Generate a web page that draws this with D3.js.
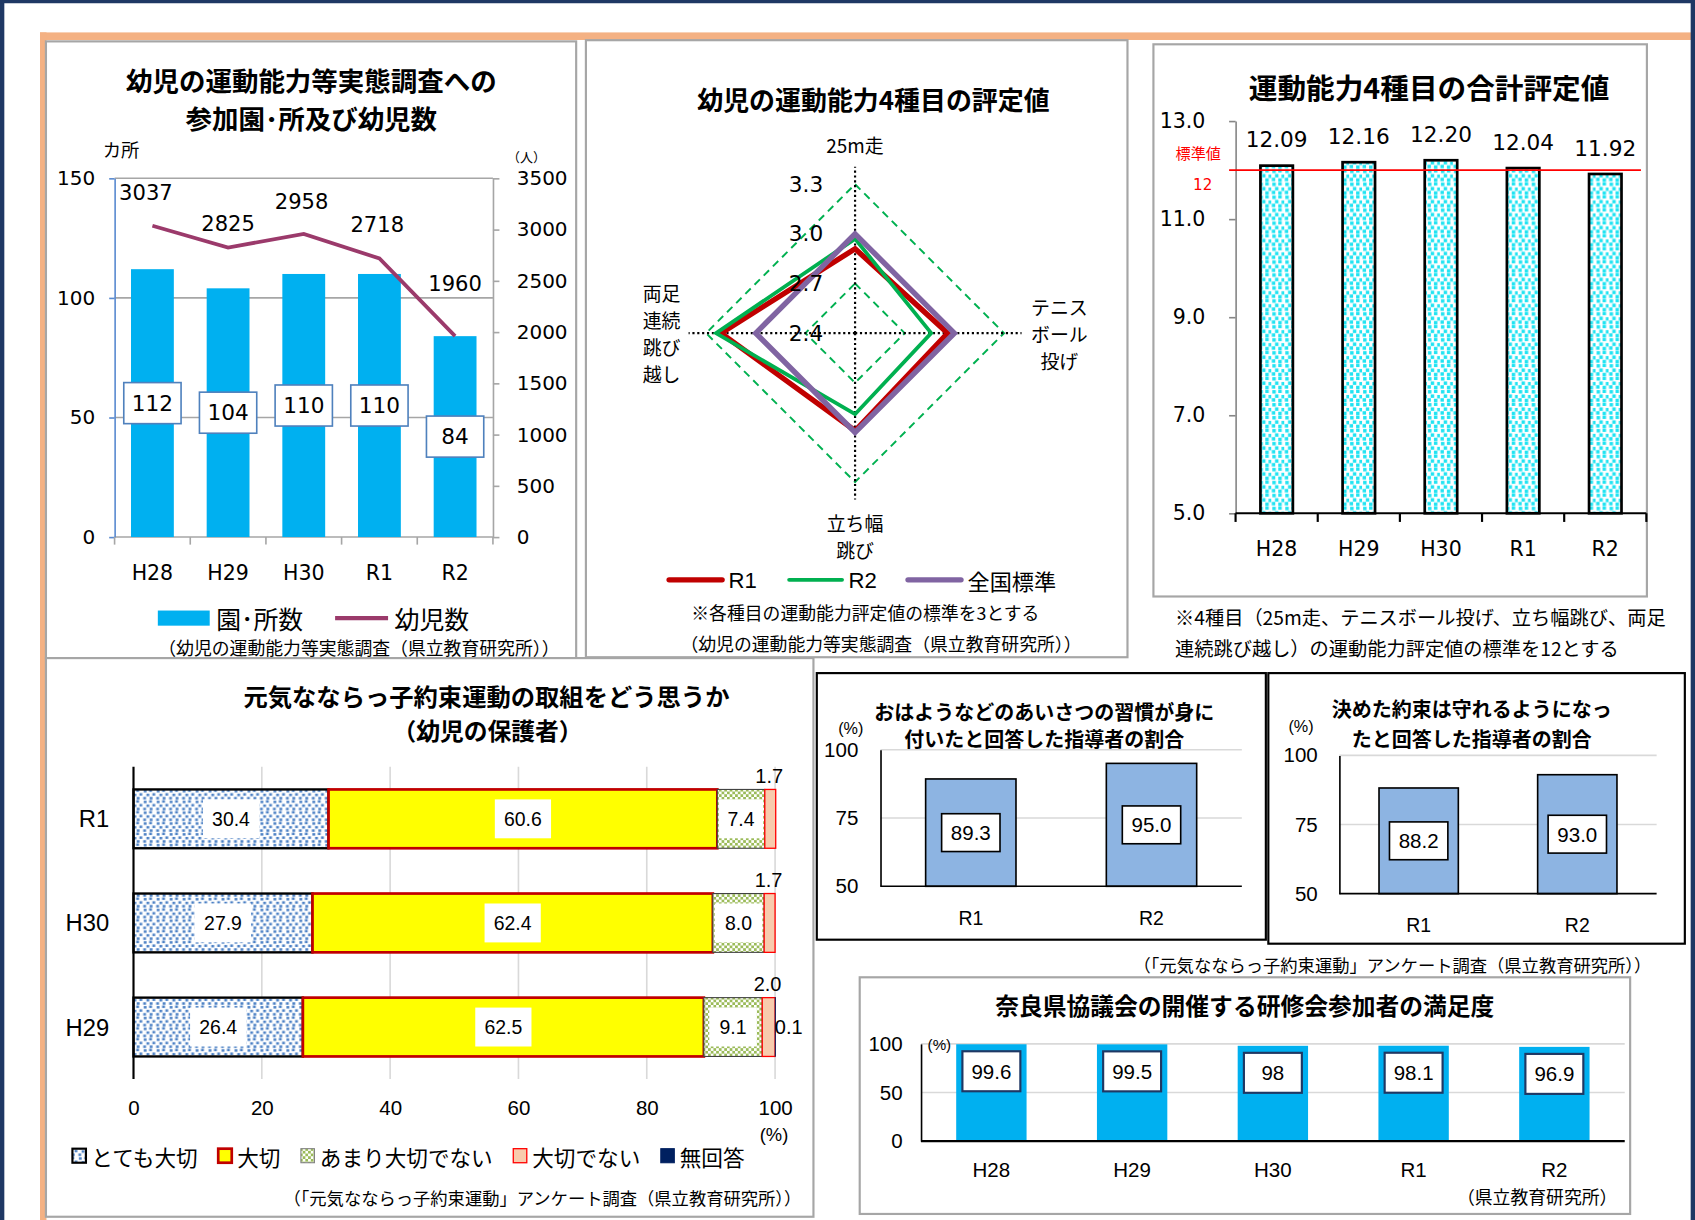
<!DOCTYPE html>
<html><head><meta charset="utf-8">
<script src="https://cdn.jsdelivr.net/npm/d3@7"></script>
<style>body{margin:0;background:#fff;} svg{display:block;}</style>
</head><body>
<script>
// ---------------- DATA ----------------
const years5 = ["H28","H29","H30","R1","R2"];
const facilities = [112,104,110,110,84];
const children = [3037,2825,2958,2718,1960];

const radarAxes = ["25m走","テニスボール投げ","立ち幅跳び","両足連続跳び越し"];
const radarLabelLines = [["25m走"],["テニス","ボール","投げ"],["立ち幅","跳び"],["両足","連続","跳び","越し"]];
const radarR1 = [2.91,2.96,2.99,3.21];
const radarR2 = [2.97,2.86,2.89,3.24];
const radarNational = [3.0,3.0,3.0,3.0];
const radarTicks = [2.4,2.7,3.0,3.3];

const totalScores = [12.09,12.16,12.20,12.04,11.92];
const totalStandard = 12;
const totalTicks = [5,7,9,11,13];

const surveyYears = ["R1","H30","H29"];
const surveyCats = ["とても大切","大切","あまり大切でない","大切でない","無回答"];
const veryImportant = [30.4,27.9,26.4];
const important = [60.6,62.4,62.5];
const notVery = [7.4,8.0,9.1];
const notImportant = [1.7,1.7,2.0];
const noAnswer = [0,0,0.1];
const surveyTicks = [0,20,40,60,80,100];

const leaderYears = ["R1","R2"];
const greetPct = [89.3,95.0];
const promisePct = [88.2,93.0];
const leaderTicks = [50,75,100];

const satisfactionPct = [99.6,99.5,98,98.1,96.9];
const satisfactionTicks = [0,50,100];

// ---------------- SETUP ----------------
const svg = d3.select("body").append("svg")
  .attr("width",1695).attr("height",1220)
  .attr("viewBox","0 0 1568 1129").attr("preserveAspectRatio","none");
svg.append("rect").attr("width",1568).attr("height",1129).attr("fill","#fff");
const JP="'Noto Sans CJK JP','Noto Sans',sans-serif", DV="'DejaVu Sans',sans-serif", AR="'Liberation Sans',Arial,sans-serif";
function T(g,x,y,s,o={}){
  return g.append("text").attr("x",x).attr("y",y)
    .attr("text-anchor",o.a||"middle").attr("dominant-baseline","central")
    .attr("font-family",o.f||JP).attr("font-size",o.s||16)
    .attr("font-weight",o.w||400).attr("fill",o.c||"#000").text(s);
}
function box(g,x,y,w,h,stroke,fill,sw){
  return g.append("rect").attr("x",x).attr("y",y).attr("width",w).attr("height",h)
    .attr("fill",fill||"none").attr("stroke",stroke).attr("stroke-width",sw||1.5);
}

// patterns
const defs = svg.append("defs");
const pc = defs.append("pattern").attr("id","cyanDots").attr("patternUnits","userSpaceOnUse").attr("width",12).attr("height",12);
pc.append("rect").attr("width",12).attr("height",12).attr("fill","#fff");
[[1,1],[6.5,0.5],[3.5,5],[9.5,5.5],[0.5,8.5],[6.5,9]].forEach(p=>pc.append("rect").attr("x",p[0]).attr("y",p[1]).attr("width",3.2).attr("height",3.2).attr("fill","#1fe3f2"));
const pb = defs.append("pattern").attr("id","blueDots").attr("patternUnits","userSpaceOnUse").attr("width",12).attr("height",10);
pb.append("rect").attr("width",12).attr("height",10).attr("fill","#fff");
[[1,1],[6,0.5],[3.5,4.5],[9,4],[0.5,7.5],[6.5,7.5]].forEach(p=>pb.append("rect").attr("x",p[0]).attr("y",p[1]).attr("width",2.6).attr("height",2.3).attr("fill","#4a7fc4"));
const pg = defs.append("pattern").attr("id","greenCheck").attr("patternUnits","userSpaceOnUse").attr("width",5).attr("height",5);
pg.append("rect").attr("width",5).attr("height",5).attr("fill","#fff");
pg.append("rect").attr("width",2.5).attr("height",2.5).attr("fill","#9bbb59");
pg.append("rect").attr("x",2.5).attr("y",2.5).attr("width",2.5).attr("height",2.5).attr("fill","#9bbb59");

// frame
svg.append("rect").attr("x",37).attr("y",30).attr("width",1531).attr("height",7).attr("fill","#F4B183");
svg.append("rect").attr("x",37).attr("y",30).attr("width",6).attr("height",1099).attr("fill","#F4B183");
svg.append("rect").attr("x",0).attr("y",0).attr("width",4).attr("height",1129).attr("fill","#1F3864");
svg.append("rect").attr("x",0).attr("y",0).attr("width",1568).attr("height",3).attr("fill","#1F3864");
svg.append("rect").attr("x",1564).attr("y",0).attr("width",4).attr("height",1129).attr("fill","#1F3864");

// panel boxes
box(svg,42.5,38.3,490.5,570.7,"#A6A6A6","#fff",2);
box(svg,542,37.2,501,571,"#A6A6A6","#fff",2);
box(svg,1067,41,456.5,511,"#A6A6A6","#fff",2);
box(svg,42.5,609,710,517,"#A6A6A6","#fff",2);
box(svg,755.6,622.9,415.4,246.7,"#000","#fff",2);
box(svg,1173.3,622.9,385.3,250.4,"#000","#fff",2);
box(svg,795.3,904.4,712.7,219,"#A6A6A6","#fff",2);

// ================= PANEL 1 =================
{
const g = svg.append("g");
const x1 = d3.scaleBand().domain(years5).range([106,456]).paddingInner(0.434).paddingOuter(0.217);
const y1L = d3.scaleLinear().domain([0,150]).range([497,165]);
const y1R = d3.scaleLinear().domain([0,3500]).range([497,165]);
T(g,288,73.5,"幼児の運動能力等実態調査への",{s:24.5,w:700});
T(g,288,109,"参加園･所及び幼児数",{s:24.5,w:700});
T(g,112,138,"カ所",{s:17});
T(g,487,145,"（人）",{s:12});
g.selectAll(".gl").data([0,50,100,150]).join("line")
  .attr("x1",106).attr("x2",456).attr("y1",d=>y1L(d)).attr("y2",d=>y1L(d))
  .attr("stroke","#A6A6A6").attr("stroke-width",1.5);
const aL = g.append("g").attr("transform","translate(106,0)")
  .call(d3.axisLeft(y1L).tickValues([0,50,100,150]).tickSize(5).tickSizeOuter(0).tickPadding(13));
aL.select(".domain").attr("stroke","#5B8BD0").attr("stroke-width",1.5);
aL.selectAll(".tick line").attr("stroke","#5B8BD0").attr("stroke-width",1.5);
aL.selectAll("text").attr("font-family",DV).attr("font-size",18.5).attr("fill","#000");
const aR = g.append("g").attr("transform","translate(456,0)")
  .call(d3.axisRight(y1R).tickValues(d3.range(0,3501,500)).tickFormat(d3.format("d")).tickSize(6).tickSizeOuter(0).tickPadding(16));
aR.select(".domain").attr("stroke","#A6A6A6").attr("stroke-width",1.5);
aR.selectAll(".tick line").attr("stroke","#A6A6A6").attr("stroke-width",1.5);
aR.selectAll("text").attr("font-family",DV).attr("font-size",18.5).attr("fill","#000");
// category boundary ticks
const bnd = years5.map(d=>x1(d)+x1.bandwidth()/2-x1.step()/2).concat([456]);
g.selectAll(".ct").data(bnd).join("line").attr("x1",d=>d).attr("x2",d=>d).attr("y1",497).attr("y2",504)
  .attr("stroke","#A6A6A6").attr("stroke-width",1.5);
g.selectAll(".bar").data(facilities).join("rect")
  .attr("x",(d,i)=>x1(years5[i])).attr("width",x1.bandwidth())
  .attr("y",d=>y1L(d)).attr("height",d=>497-y1L(d)).attr("fill","#00B0F0");
years5.forEach((yr,i)=>T(g,x1(yr)+x1.bandwidth()/2,530,yr,{f:DV,s:19}));
const line = d3.line().x((d,i)=>x1(years5[i])+x1.bandwidth()/2).y(d=>y1R(d));
g.append("path").attr("d",line(children)).attr("fill","none").attr("stroke","#9B3A6B").attr("stroke-width",3.5);
const lblDy=[-31,-22,-30,-31,-49], lblDx=[-6,0,-2,-2,0];
children.forEach((v,i)=>T(g,x1(years5[i])+x1.bandwidth()/2+lblDx[i],y1R(v)+lblDy[i],String(v),{f:DV,s:19.5}));
facilities.forEach((v,i)=>{
  const cx=x1(years5[i])+x1.bandwidth()/2, cy=y1L(v/2);
  box(g,cx-26.5,cy-19,53,38,"#4F81BD","#fff",1.5);
  T(g,cx,cy,String(v),{f:DV,s:20});
});
// legend
g.append("rect").attr("x",146).attr("y",565).attr("width",48).attr("height",14).attr("fill","#00B0F0");
T(g,200,572,"園･所数",{a:"start",s:23});
g.append("line").attr("x1",310).attr("x2",359).attr("y1",572).attr("y2",572).attr("stroke","#9B3A6B").attr("stroke-width",4);
T(g,365,572,"幼児数",{a:"start",s:23});
T(g,332,599,"（幼児の運動能力等実態調査（県立教育研究所））",{s:16.5});
}

// ================= PANEL 2 (radar) =================
{
const g = svg.append("g");
const c = {x:791,y:308.3};
const rS = d3.scaleLinear().domain([2.4,3.3]).range([0,137.8]);
const ang = i => (-90+90*i)*Math.PI/180;
const pt = (v,i)=>[c.x+rS(v)*Math.cos(ang(i)), c.y+rS(v)*Math.sin(ang(i))];
const closed = d3.line().curve(d3.curveLinearClosed);
T(g,808,91,"幼児の運動能力4種目の評定値",{s:24,w:700});
radarTicks.slice(1).forEach(v=>{
  g.append("path").attr("d",closed(radarAxes.map((a,i)=>pt(v,i)))).attr("fill","none")
   .attr("stroke","#00B050").attr("stroke-width",1.8).attr("stroke-dasharray","7,5");
});
radarAxes.forEach((a,i)=>{
  const e=[c.x+154*Math.cos(ang(i)), c.y+154*Math.sin(ang(i))];
  g.append("line").attr("x1",c.x).attr("y1",c.y).attr("x2",e[0]).attr("y2",e[1])
   .attr("stroke","#000").attr("stroke-width",2).attr("stroke-dasharray","2,2.5");
});
[[radarR1,"#C00000",5],[radarR2,"#00B050",3.5],[radarNational,"#8064A2",5]].forEach(s=>{
  g.append("path").attr("d",closed(s[0].map((v,i)=>pt(v,i)))).attr("fill","none")
   .attr("stroke",s[1]).attr("stroke-width",s[2]).attr("stroke-linejoin","miter");
});
radarTicks.forEach(v=>T(g,745.6,c.y-rS(v),d3.format(".1f")(v),{f:DV,s:20}));
// axis labels
const lh=25;
radarLabelLines.forEach((lines,i)=>{
  lines.forEach((s,k)=>{
    let x,y;
    if(i===0){x=c.x;y=c.y-175-(lines.length-1-k)*lh;}
    else if(i===2){x=c.x;y=c.y+175+k*lh;}
    else if(i===1){x=c.x+189;y=c.y+(k-(lines.length-1)/2)*lh;}
    else {x=c.x-179;y=c.y+(k-(lines.length-1)/2)*lh;}
    T(g,x,y,s,{s:17.5});
  });
});
// legend
const leg=[["R1","#C00000",619,5],["R2","#00B050",730,3.5],["全国標準","#8064A2",840,5]];
leg.forEach(l=>{
  g.append("line").attr("x1",l[2]).attr("x2",l[2]+49).attr("y1",536.6).attr("y2",536.6).attr("stroke",l[1]).attr("stroke-width",l[3]).attr("stroke-linecap","round");
  T(g,l[2]+55,537,l[0],{a:"start",s:20.5,f:l[0]==="全国標準"?JP:AR});
});
T(g,800.5,566,"※各種目の運動能力評定値の標準を3とする",{s:16.5});
T(g,815,595,"（幼児の運動能力等実態調査（県立教育研究所））",{s:16.5});
}

// ================= PANEL 3 =================
{
const g = svg.append("g");
const x3 = d3.scaleBand().domain(years5).range([1143,1523]).paddingInner(0.605).paddingOuter(0.3025);
const y3 = d3.scaleLinear().domain([5,13]).range([475,112]);
T(g,1322,80.5,"運動能力4種目の合計評定値",{s:26.5,w:700});
const a = g.append("g").attr("transform","translate(1143,0)")
  .call(d3.axisLeft(y3).tickValues(totalTicks).tickFormat(d3.format(".1f")).tickSize(6).tickSizeOuter(0).tickPadding(22));
a.select(".domain").attr("stroke","#868686").attr("stroke-width",1.5);
a.selectAll(".tick line").attr("stroke","#868686").attr("stroke-width",1.5);
a.selectAll("text").attr("font-family",DV).attr("font-size",19).attr("fill","#000");
g.selectAll(".bar").data(totalScores).join("rect")
  .attr("x",(d,i)=>x3(years5[i])).attr("width",x3.bandwidth())
  .attr("y",d=>y3(d)).attr("height",d=>475-y3(d))
  .attr("fill","url(#cyanDots)").attr("stroke","#000").attr("stroke-width",2.5);
g.append("line").attr("x1",1143).attr("x2",1523).attr("y1",475).attr("y2",475).attr("stroke","#000").attr("stroke-width",2);
const bnd = years5.map(d=>x3(d)+x3.bandwidth()/2-x3.step()/2).concat([1523]);
g.selectAll(".ct").data(bnd).join("line").attr("x1",d=>d).attr("x2",d=>d).attr("y1",475).attr("y2",483)
  .attr("stroke","#000").attr("stroke-width",2);
years5.forEach((yr,i)=>T(g,x3(yr)+x3.bandwidth()/2,508,yr,{f:DV,s:19}));
totalScores.forEach((v,i)=>T(g,x3(years5[i])+x3.bandwidth()/2,y3(v)-24,d3.format(".2f")(v),{f:DV,s:20}));
g.append("line").attr("x1",1137).attr("x2",1518).attr("y1",y3(totalStandard)).attr("y2",y3(totalStandard)).attr("stroke","#FF0000").attr("stroke-width",1.6);
T(g,1108.5,141,"標準値",{s:14,c:"#FF0000"});
T(g,1112.6,171,String(totalStandard),{s:14,f:DV,c:"#FF0000"});
T(g,1087,571,"※4種目（25m走、テニスボール投げ、立ち幅跳び、両足",{a:"start",s:17.8});
T(g,1087,600,"連続跳び越し）の運動能力評定値の標準を12とする",{a:"start",s:17.8});
}

// ================= PANEL 4 =================
{
const g = svg.append("g");
const x4 = d3.scaleLinear().domain([0,100]).range([123.5,717]);
const y4 = d3.scaleBand().domain(surveyYears).range([709.6,998.6]).paddingInner(0.435).paddingOuter(0.2175);
T(g,450,643.6,"元気なならっ子約束運動の取組をどう思うか",{s:22.5,w:700});
T(g,451,675,"（幼児の保護者）",{s:22,w:700});
g.selectAll(".gl").data(surveyTicks.slice(1)).join("line")
  .attr("x1",d=>x4(d)).attr("x2",d=>x4(d)).attr("y1",709.6).attr("y2",998.6)
  .attr("stroke","#D9D9D9").attr("stroke-width",1.5);
const ax = g.append("g").attr("transform","translate(0,998.6)")
  .call(d3.axisBottom(x4).tickValues(surveyTicks).tickSize(0).tickPadding(20));
ax.select(".domain").remove();
ax.selectAll("text").attr("font-family",AR).attr("font-size",19).attr("fill","#000");
T(g,716,1049.8,"(%)",{f:AR,s:17});
const rows = surveyYears.map((yr,i)=>({year:yr,"とても大切":veryImportant[i],"大切":important[i],"あまり大切でない":notVery[i],"大切でない":notImportant[i],"無回答":noAnswer[i]}));
const series = d3.stack().keys(surveyCats)(rows);
const sty = {
  "とても大切":{f:"url(#blueDots)",s:"#000",w:2.2},
  "大切":{f:"#FFFF00",s:"#C00000",w:2.5},
  "あまり大切でない":{f:"url(#greenCheck)",s:"#404040",w:1},
  "大切でない":{f:"#F8CBAD",s:"#FF0000",w:1.2},
  "無回答":{f:"#002060",s:"#002060",w:0.5}
};
series.forEach(s=>{
  g.selectAll(null).data(s).join("rect")
   .attr("x",d=>x4(d[0])).attr("width",d=>Math.max(0,x4(d[1])-x4(d[0])))
   .attr("y",d=>y4(d.data.year)).attr("height",y4.bandwidth())
   .attr("fill",sty[s.key].f).attr("stroke",sty[s.key].s).attr("stroke-width",sty[s.key].w);
});
g.append("line").attr("x1",123.5).attr("x2",123.5).attr("y1",709.6).attr("y2",998.6).attr("stroke","#000").attr("stroke-width",2);
surveyYears.forEach(yr=>T(g,101,y4(yr)+y4.bandwidth()/2,yr,{a:"end",f:AR,s:22}));
series.forEach((s,k)=>{
  s.forEach(d=>{
    const v=d[1]-d[0]; if(v<=0) return;
    const cy=y4(d.data.year)+y4.bandwidth()/2, x0=x4(d[0]), x1=x4(d[1]), cx=(x0+x1)/2;
    const lab=d3.format(".1f")(v);
    if(k<=2){
      const bw = k<2?52:Math.min(44,x1-x0-3);
      g.append("rect").attr("x",cx-bw/2).attr("y",cy-18).attr("width",bw).attr("height",36).attr("fill","#fff");
      T(g,cx,cy,lab,{f:AR,s:18});
    } else if(k===3){
      T(g,cx-1,y4(d.data.year)-12.5,lab,{f:AR,s:18.5});
    } else {
      T(g,x1+12,cy,lab,{f:AR,s:18.5});
    }
  });
});
// legend
let cx=67;
const icon = {
  "とても大切":{f:"url(#blueDots)",s:"#000",w:2},
  "大切":{f:"#FFFF00",s:"#C00000",w:2.5},
  "あまり大切でない":{f:"url(#greenCheck)",s:"#7F7F7F",w:1},
  "大切でない":{f:"#F8CBAD",s:"#FF0000",w:1.2},
  "無回答":{f:"#002060",s:"#002060",w:1}
};
surveyCats.forEach(k=>{
  g.append("rect").attr("x",cx).attr("y",1063).attr("width",12.5).attr("height",13).attr("fill",icon[k].f).attr("stroke",icon[k].s).attr("stroke-width",icon[k].w);
  const t=T(g,cx+17.5,1070,k,{a:"start",s:20});
  cx += 17.5 + t.node().getComputedTextLength() + 19;
});
T(g,501.7,1108,"（「元気なならっ子約束運動」アンケート調査（県立教育研究所））",{s:16});
}

// ================= PANEL 5 & 6 =================
function leaderPanel(vals, xr, yr, titles, cxT, pctPos, xlabY){
  const g = svg.append("g");
  const x = d3.scaleBand().domain(leaderYears).range(xr).paddingInner(0.5).paddingOuter(0.25);
  const y = d3.scaleLinear().domain([50,100]).range(yr);
  T(g,cxT,titles[2],titles[0],{s:18.5,w:700});
  T(g,cxT,titles[3],titles[1],{s:18.5,w:700});
  g.selectAll(".gl").data([75,100]).join("line")
    .attr("x1",xr[0]).attr("x2",xr[1]).attr("y1",d=>y(d)).attr("y2",d=>y(d))
    .attr("stroke","#D9D9D9").attr("stroke-width",1.5);
  const a = g.append("g").attr("transform",`translate(${xr[0]},0)`)
    .call(d3.axisLeft(y).tickValues(leaderTicks).tickSize(0).tickPadding(xr[0]-pctPos[2]));
  a.select(".domain").attr("stroke","#000").attr("stroke-width",1.5);
  a.selectAll("text").attr("font-family",AR).attr("font-size",19).attr("fill","#000");
  T(g,pctPos[0],pctPos[1],"(%)",{f:AR,s:15});
  g.selectAll(".bar").data(vals).join("rect")
    .attr("x",(d,i)=>x(leaderYears[i])).attr("width",x.bandwidth())
    .attr("y",d=>y(d)).attr("height",d=>yr[0]-y(d))
    .attr("fill","#8DB4E2").attr("stroke","#000").attr("stroke-width",1.5);
  g.append("line").attr("x1",xr[0]).attr("x2",xr[1]).attr("y1",yr[0]).attr("y2",yr[0]).attr("stroke","#000").attr("stroke-width",1.5);
  vals.forEach((v,i)=>{
    const cx=x(leaderYears[i])+x.bandwidth()/2, cy=y((v+50)/2);
    box(g,cx-27,cy-17.5,54,35,"#000","#fff",1.5);
    T(g,cx,cy,d3.format(".1f")(v),{f:AR,s:19});
  });
  leaderYears.forEach(l=>T(g,x(l)+x.bandwidth()/2,xlabY,l,{f:AR,s:18}));
}
leaderPanel(greetPct,[814.5,1148.8],[820.2,693.8],["おはようなどのあいさつの習慣が身に","付いたと回答した指導者の割合",658.4,683],966,[787,673.5,794],849.5);
leaderPanel(promisePct,[1239,1532.5],[827,699],["決めた約束は守れるようになっ","たと回答した指導者の割合",655.3,683],1361.5,[1203.6,672,1219],856.3);
T(svg,1288,893,"（「元気なならっ子約束運動」アンケート調査（県立教育研究所））",{s:16});

// ================= PANEL 7 =================
{
const g = svg.append("g");
const x7 = d3.scaleBand().domain(years5).range([852,1503]).paddingInner(0.5).paddingOuter(0.25);
const y7 = d3.scaleLinear().domain([0,100]).range([1056,966]);
T(g,1151.5,929.7,"奈良県協議会の開催する研修会参加者の満足度",{s:22,w:700});
g.selectAll(".gl").data([50,100]).join("line")
  .attr("x1",852).attr("x2",1503).attr("y1",d=>y7(d)).attr("y2",d=>y7(d))
  .attr("stroke","#D9D9D9").attr("stroke-width",1.5);
const a = g.append("g").attr("transform","translate(852,0)")
  .call(d3.axisLeft(y7).tickValues(satisfactionTicks).tickSize(0).tickPadding(17));
a.select(".domain").attr("stroke","#000").attr("stroke-width",1.5);
a.selectAll("text").attr("font-family",AR).attr("font-size",19).attr("fill","#000");
T(g,869,967,"(%)",{f:AR,s:14});
g.selectAll(".bar").data(satisfactionPct).join("rect")
  .attr("x",(d,i)=>x7(years5[i])).attr("width",x7.bandwidth())
  .attr("y",d=>y7(d)).attr("height",d=>1056-y7(d)).attr("fill","#00B0F0");
g.append("line").attr("x1",852).attr("x2",1503).attr("y1",1056).attr("y2",1056).attr("stroke","#000").attr("stroke-width",2);
satisfactionPct.forEach((v,i)=>{
  const cx=x7(years5[i])+x7.bandwidth()/2, cy=y7(v)+25;
  box(g,cx-26.8,cy-18.5,53.6,37,"#1F3864","#fff",2);
  T(g,cx,cy,String(v),{f:AR,s:19});
});
years5.forEach(yr=>T(g,x7(yr)+x7.bandwidth()/2,1082,yr,{f:AR,s:19}));
T(g,1422,1107,"（県立教育研究所）",{s:16.5});
}
</script>
</body></html>
